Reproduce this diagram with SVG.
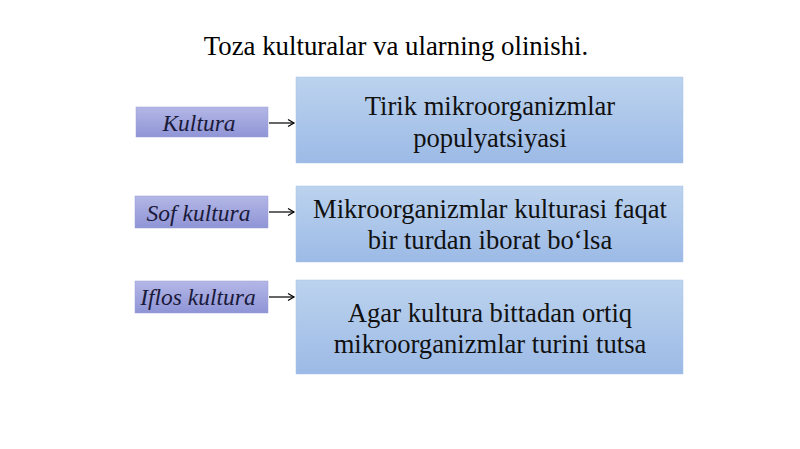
<svg xmlns="http://www.w3.org/2000/svg" width="800" height="449" viewBox="0 0 800 449">
<defs>
<linearGradient id="gl" x1="0" y1="0" x2="0" y2="1">
<stop offset="0" stop-color="#b3b7e6"/>
<stop offset="1" stop-color="#8f94d6"/>
</linearGradient>
<linearGradient id="gr" x1="0" y1="0" x2="0" y2="1">
<stop offset="0" stop-color="#bcd3ee"/>
<stop offset="1" stop-color="#9cbae6"/>
</linearGradient>
<marker id="ah" markerWidth="10" markerHeight="10" refX="8" refY="5" orient="auto" markerUnits="userSpaceOnUse">
<path d="M2,1.5 L8,5 L2,8.5" fill="none" stroke="#000" stroke-width="1.2"/>
</marker>
</defs>
<style>
.t{font-family:"Liberation Serif","Times New Roman",serif;fill:#000;text-anchor:middle}
.title{font-size:26.8px}
.lbl{font-size:23.5px;font-style:italic;fill:#1a1a3a}
.body{font-size:26.6px;fill:#111}
.lb{fill:url(#gl);stroke:#9a9fd8;stroke-width:0.5}
.rb{fill:url(#gr);stroke:#a9c2e6;stroke-width:0.5}
.c{stroke:#000;stroke-width:1.2;fill:none}
</style>
<rect width="800" height="449" fill="#fff"/>
<text class="t title" x="396" y="55">Toza kulturalar va ularning olinishi.</text>
<g id="connectors">
<line class="c" x1="269" y1="123" x2="294" y2="123" marker-end="url(#ah)"/>
<line class="c" x1="269" y1="212" x2="294" y2="212" marker-end="url(#ah)"/>
<line class="c" x1="269" y1="297" x2="294" y2="297" marker-end="url(#ah)"/>
</g>
<g id="kultura">
<rect class="lb" x="136" y="107" width="132" height="30"/>
<text class="t lbl" x="199" y="131">Kultura</text>
</g>
<g id="sof-kultura">
<rect class="lb" x="135" y="196" width="133" height="32"/>
<text class="t lbl" x="198.5" y="221">Sof kultura</text>
</g>
<g id="iflos-kultura">
<rect class="lb" x="135" y="281" width="133" height="32"/>
<text class="t lbl" x="198" y="305">Iflos kultura</text>
</g>
<g id="def1">
<rect class="rb" x="296" y="77" width="387" height="86"/>
<text class="t body" x="490" y="115">Tirik mikroorganizmlar</text>
<text class="t body" x="490" y="147">populyatsiyasi</text>
</g>
<g id="def2">
<rect class="rb" x="296" y="186" width="387" height="76"/>
<text class="t body" x="490" y="218">Mikroorganizmlar kulturasi faqat</text>
<text class="t body" x="490" y="249">bir turdan iborat bo‘lsa</text>
</g>
<g id="def3">
<rect class="rb" x="296" y="280" width="387" height="94"/>
<text class="t body" x="490" y="322">Agar kultura bittadan ortiq</text>
<text class="t body" x="490" y="353">mikroorganizmlar turini tutsa</text>
</g>
</svg>
